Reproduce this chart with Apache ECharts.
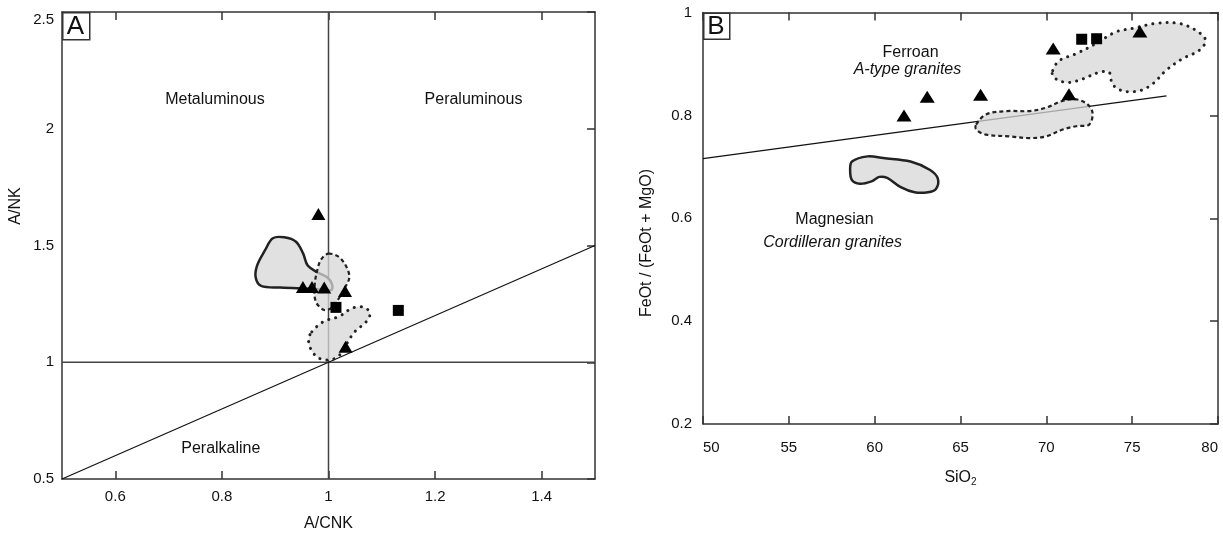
<!DOCTYPE html>
<html>
<head>
<meta charset="utf-8">
<script src="https://cdn.jsdelivr.net/npm/echarts@6.0.0/dist/echarts.min.js"></script>
<style>
    html, body { margin: 0; padding: 0; background: #fff; }
    #chart1 { width: 1223px; height: 537px; }
</style>
</head>
<body>
<div id="chart1"></div>
<script>
    /* A: A/CNK - A/NK,  B: SiO2 - FeOt/(FeOt+MgO) */

    // panel A data
    var aTicks = [0.6, 0.8, 1, 1.2, 1.4];
    var aTriangles = [[0.981, 1.635], [0.952, 1.322], [0.969, 1.322], [0.992, 1.320], [1.031, 1.305], [1.032, 1.066]];
    var aSquares = [[1.014, 1.235], [1.131, 1.222]];
    var aLineH = [[0.5, 1], [1.5, 1]];
    var aLineV = [[1, 0.5], [1, 2.5]];
    var aLineDiag = [[0.5, 0.5], [1.5, 1.5]];
    var aFieldSolid = [[0.8955, 1.531], [0.917, 1.535], [0.939, 1.516], [0.9525, 1.465], [0.961, 1.414], [0.9795, 1.385],
        [0.998, 1.363], [1.0066, 1.334], [1.005, 1.309], [0.969, 1.315], [0.910, 1.320], [0.8736, 1.327],
        [0.8634, 1.363], [0.866, 1.414], [0.881, 1.480]];
    var aFieldDashed = [[1.0, 1.465], [1.0197, 1.4505], [1.034, 1.407], [1.039, 1.363], [1.031, 1.3195], [1.018, 1.2686],
        [1.005, 1.232], [0.9905, 1.225], [0.976, 1.261], [0.974, 1.327], [0.9795, 1.400], [0.987, 1.443]];
    var aFieldDotted = [[0.9686, 1.130], [0.9905, 1.174], [1.0197, 1.196], [1.045, 1.232], [1.067, 1.235], [1.078, 1.210],
        [1.071, 1.174], [1.049, 1.130], [1.034, 1.079], [1.0197, 1.028], [1.0015, 1.010], [0.9795, 1.021],
        [0.965, 1.065], [0.963, 1.101]];
    var aLabels = ['Metaluminous', 'Peraluminous', 'Peralkaline'];
    var aLabelPos = [[0.787, 2.123], [1.272, 2.123], [0.798, 0.632]];

    // panel B data
    var bTriangles = [[61.71, 0.800], [63.06, 0.836], [66.17, 0.840], [70.40, 0.930], [71.32, 0.841], [75.45, 0.963]];
    var bSquares = [[72.06, 0.948], [72.93, 0.949]];
    var bLine = [[50, 0.716], [77, 0.838]];
    var bFieldSolid = [[58.68, 0.7103], [59.59, 0.7203], [60.5, 0.717], [62.09, 0.7103], [63.23, 0.6937], [63.68, 0.677],
        [63.57, 0.657], [63.11, 0.6505], [62.32, 0.6505], [61.52, 0.6605], [60.73, 0.6784], [60.27, 0.6804],
        [59.82, 0.6718], [59.14, 0.6671], [58.68, 0.6738], [58.57, 0.6937]];
    var bFieldDashed = [[65.91, 0.7822], [66.49, 0.8019], [67.66, 0.8084], [69.01, 0.8084], [69.98, 0.8148], [70.93, 0.828],
        [71.73, 0.8313], [72.40, 0.8215], [72.69, 0.805], [72.50, 0.7822], [71.73, 0.7789], [70.95, 0.7724],
        [69.98, 0.7592], [69.01, 0.7559], [67.85, 0.7592], [66.49, 0.7626], [65.91, 0.7724]];
    var bFieldDotted = [[70.37, 0.887], [70.76, 0.9066], [71.73, 0.9198], [72.89, 0.9395], [74.05, 0.9623], [75.02, 0.969],
        [76.38, 0.9788], [77.73, 0.9788], [78.70, 0.9656], [79.28, 0.946], [78.90, 0.9263], [77.92, 0.91],
        [76.96, 0.887], [76.18, 0.8608], [75.41, 0.8477], [74.44, 0.8477], [73.85, 0.8608], [73.66, 0.8836],
        [73.08, 0.8836], [72.11, 0.8707], [71.34, 0.864], [70.76, 0.8673], [70.37, 0.8771]];
    var bLabels = ['Ferroan', 'A-type granites', 'Magnesian', 'Cordilleran granites'];
    var bLabelPos = [[62.09, 0.9216], [61.91, 0.8897], [57.66, 0.5973], [57.55, 0.5528]];
    var bLabelItalic = [false, true, false, true];

    var FONT = '"Liberation Sans", Arial, sans-serif';
    var AXIS_COLOR = '#333';
    var TEXT_COLOR = '#111';

    var mychart = echarts.init(document.getElementById('chart1'));

    function frameAxis(gridIndex, position, min, max, extra) {
        var ax = {
            type: 'value',
            gridIndex: gridIndex,
            position: position,
            min: min,
            max: max,
            axisLine: { show: true, onZero: false, lineStyle: { color: AXIS_COLOR, width: 1.5 } },
            axisTick: { show: true, inside: true, length: 8, lineStyle: { color: AXIS_COLOR, width: 1.5 } },
            axisLabel: { show: false },
            splitLine: { show: false }
        };
        for (var k in extra) { ax[k] = extra[k]; }
        return ax;
    }

    function lineSeries(data, xi, yi, color, width) {
        return {
            type: 'line', xAxisIndex: xi, yAxisIndex: yi, data: data,
            symbol: 'none', silent: true, z: 1,
            lineStyle: { color: color, width: width }
        };
    }

    function fieldSeries(pts, xi, yi, style, z) {
        return {
            type: 'custom', xAxisIndex: xi, yAxisIndex: yi, silent: true, z: z,
            data: [0],
            renderItem: function (params, api) {
                var points = pts.map(function (p) { return api.coord(p); });
                return { type: 'polygon', shape: { points: points, smooth: 0.35 }, style: style };
            }
        };
    }

    function markSeries(data, xi, yi, symbol, size) {
        return {
            type: 'scatter', xAxisIndex: xi, yAxisIndex: yi, data: data,
            symbol: symbol, symbolSize: size, silent: true, z: 5,
            itemStyle: { color: '#000', opacity: 1 }
        };
    }

    function labelSeries(pos, texts, italics, xi, yi) {
        var d = [];
        for (var i = 0; i < pos.length; i++) {
            d.push({
                value: pos[i],
                label: { formatter: texts[i], fontStyle: italics && italics[i] ? 'italic' : 'normal' }
            });
        }
        return {
            type: 'scatter', xAxisIndex: xi, yAxisIndex: yi, data: d,
            symbolSize: 1, silent: true, z: 6,
            itemStyle: { color: 'rgba(255,255,255,0)', opacity: 1 },
            label: {
                show: true, position: 'inside', color: TEXT_COLOR, fontSize: 16, fontFamily: FONT,
                textBorderWidth: 0, opacity: 1
            }
        };
    }

    var solidStyle = { fill: '#e1e1e1', stroke: '#222', lineWidth: 2.5 };
    var dashedStyle = { fill: 'rgba(215,215,215,0.75)', stroke: '#222', lineWidth: 2.2, lineDash: [4, 3] };
    var dottedStyle = { fill: 'rgba(215,215,215,0.75)', stroke: '#222', lineWidth: 3, lineDash: [0.1, 7], lineCap: 'round' };

    var option = {
        animation: false,
        backgroundColor: '#fff',
        grid: [
            { left: 62, top: 12, width: 533, height: 471 },
            { left: 703, top: 12.5, width: 515, height: 411.5 }
        ],
        xAxis: [
            frameAxis(0, 'bottom', 0.5, 1.5, {
                axisTick: { show: true, inside: true, length: 8, customValues: aTicks, lineStyle: { color: AXIS_COLOR, width: 1.5 } },
                axisLabel: { show: true, customValues: aTicks, margin: 10, color: TEXT_COLOR, fontSize: 15, fontFamily: FONT },
                name: 'A/CNK', nameLocation: 'middle', nameGap: 37,
                nameTextStyle: { color: TEXT_COLOR, fontSize: 16, fontFamily: FONT }
            }),
            frameAxis(0, 'top', 0.5, 1.5, {
                axisTick: { show: true, inside: true, length: 8, customValues: aTicks, lineStyle: { color: AXIS_COLOR, width: 1.5 } }
            }),
            frameAxis(1, 'bottom', 50, 80, {
                interval: 5,
                axisLabel: { show: true, margin: 16, alignMinLabel: 'left', alignMaxLabel: 'right', color: TEXT_COLOR, fontSize: 15, fontFamily: FONT },
                name: 'SiO{s|2}', nameLocation: 'middle', nameGap: 45,
                nameTextStyle: {
                    color: TEXT_COLOR, fontSize: 16, fontFamily: FONT, lineHeight: 18,
                    rich: { s: { fontSize: 10, fontFamily: FONT, color: TEXT_COLOR, verticalAlign: 'bottom', lineHeight: 18 } }
                }
            }),
            frameAxis(1, 'top', 50, 80, { interval: 5 })
        ],
        yAxis: [
            frameAxis(0, 'left', 0.5, 2.5, {
                interval: 0.5,
                axisTick: { show: false },
                axisLabel: { show: true, margin: 8, verticalAlignMaxLabel: 'top', color: TEXT_COLOR, fontSize: 15, fontFamily: FONT }
            }),
            frameAxis(0, 'right', 0.5, 2.5, { interval: 0.5 }),
            frameAxis(1, 'left', 0.2, 1, {
                interval: 0.2,
                axisTick: { show: false },
                axisLabel: { show: true, margin: 11, color: TEXT_COLOR, fontSize: 15, fontFamily: FONT }
            }),
            frameAxis(1, 'right', 0.2, 1, { interval: 0.2 })
        ],
        graphic: [
            { type: 'rect', left: 62, top: 12, shape: { width: 27, height: 27 }, style: { fill: '#fff', stroke: AXIS_COLOR, lineWidth: 1.5 }, z: 10 },
            { type: 'text', x: 75.5, y: 26.5, style: { text: 'A', font: '26px ' + FONT, fill: '#111', align: 'center', verticalAlign: 'middle' }, z: 11 },
            { type: 'rect', left: 703, top: 12.5, shape: { width: 26, height: 26 }, style: { fill: '#fff', stroke: AXIS_COLOR, lineWidth: 1.5 }, z: 10 },
            { type: 'text', x: 716, y: 26.5, style: { text: 'B', font: '26px ' + FONT, fill: '#111', align: 'center', verticalAlign: 'middle' }, z: 11 },
            { type: 'text', x: 16, y: 206, rotation: Math.PI / 2, style: { text: 'A/NK', font: '16px ' + FONT, fill: TEXT_COLOR, align: 'center', verticalAlign: 'middle' } },
            { type: 'text', x: 647, y: 243, rotation: Math.PI / 2, style: { text: 'FeOt / (FeOt + MgO)', font: '16px ' + FONT, fill: TEXT_COLOR, align: 'center', verticalAlign: 'middle' } }
        ],
        series: [
            lineSeries(aLineH, 0, 0, '#444', 1.5),
            lineSeries(aLineV, 0, 0, '#444', 1.5),
            lineSeries(aLineDiag, 0, 0, '#111', 1.2),
            fieldSeries(aFieldSolid, 0, 0, solidStyle, 2),
            fieldSeries(aFieldDashed, 0, 0, dashedStyle, 3),
            fieldSeries(aFieldDotted, 0, 0, dottedStyle, 3),
            markSeries(aTriangles, 0, 0, 'triangle', [14, 12]),
            markSeries(aSquares, 0, 0, 'rect', 11),
            labelSeries(aLabelPos, aLabels, null, 0, 0),

            lineSeries(bLine, 2, 2, '#111', 1.2),
            fieldSeries(bFieldSolid, 2, 2, solidStyle, 2),
            fieldSeries(bFieldDashed, 2, 2, dashedStyle, 3),
            fieldSeries(bFieldDotted, 2, 2, dottedStyle, 3),
            markSeries(bTriangles, 2, 2, 'triangle', [15, 12]),
            markSeries(bSquares, 2, 2, 'rect', 11),
            labelSeries(bLabelPos, bLabels, bLabelItalic, 2, 2)
        ]
    };

    mychart.setOption(option);
</script>
</body>
</html>
